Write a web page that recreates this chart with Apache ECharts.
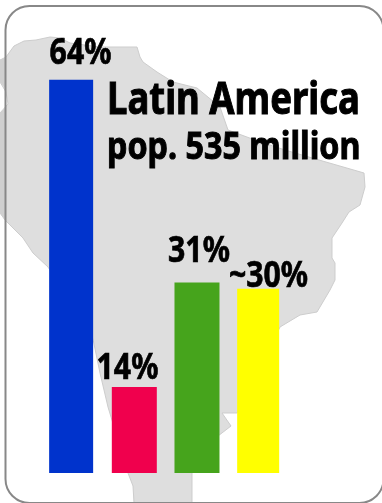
<!DOCTYPE html>
<html>
<head>
<meta charset="utf-8">
<title>Latin America</title>
<style>html,body{margin:0;padding:0;background:#fff}#chart{width:382px;height:503px}</style>
<script src="https://cdn.jsdelivr.net/npm/echarts@6/dist/echarts.min.js"></script>
</head>
<body>
<div id="chart"></div>
<script>
// Share of the population per group, with its printed label
const categories = ['blue', 'red', 'green', 'yellow'];
const shareValues = [64, 14, 31, 30];
const shareLabels = ['64%', '14%', '31%', '~30%'];
const barColors = ['#0033cc', '#f0004d', '#46a41c', '#ffff00'];
const barWidths = [44, 45, 45, 42];
// Label nudges relative to the top centre of each bar
const labelNudges = [[10.4, -26], [-5.3, -18], [3.5, -31], [10.3, -12]];

// Backdrop silhouette of the continent, in page pixels
const landOutline = [
  [0,60],[6,57],[14,46],[24,41],[36,40],[50,37],[60,38],[70,43],[100,47],[137,47],[140,57],[143,62],
  [157,72],[173,82],[197,88],[220,107],[228,130],[255,140],[285,150],[319,160],[364,173],[365,187],
  [360,205],[349,212],[342,223],[332,238],[332,258],[335,263],[335,280],[330,290],[317,312],[300,315],
  [280,327],[237,413],[222,413],[231,426],[218,436],[192,473],[192,503],[134,503],[133,486],[128,473],
  [108,407],[100,373],[93,339],[48,267],[33,253],[23,238],[5,220],[0,213],[0,113],[8,104],[6,92],[0,82]
];
const outsideSliverTop = [[0,60],[5,58],[5,88],[0,82]];
const outsideSliverLow = [[0,113],[5,108],[5,220],[0,213]];

const chart = echarts.init(document.getElementById('chart'), null, { renderer: 'canvas' });

const inkFont = {
  fontFamily: '"Noto Sans", "Open Sans", sans-serif',
  fontWeight: 'bold',
  fill: '#000',
  stroke: '#000',
  lineWidth: 1,
  textAlign: 'center',
  textVerticalAlign: 'middle'
};

function headingText(text, x, y, fontSize, scaleX) {
  return {
    type: 'text', x, y, scaleX, z: 20, silent: true,
    style: { ...inkFont, text, fontSize, textAlign: 'left' }
  };
}

chart.setOption({
  animation: false,
  backgroundColor: '#ffffff',
  grid: { left: 38.8, width: 250.7, top: 43, height: 430 },
  xAxis: { type: 'category', data: categories, show: false },
  yAxis: { type: 'value', min: 0, max: 70, show: false },
  series: [
    ...categories.map((name, i) => ({
      type: 'bar',
      name,
      barWidth: barWidths[i],
      barGap: '-100%',
      itemStyle: { color: barColors[i] },
      data: categories.map((_, j) => (j === i ? shareValues[i] : null))
    })),
    {
      type: 'custom',
      name: 'labels',
      clip: false,
      z: 10,
      data: shareValues.map((v, i) => [i, v]),
      renderItem(params, api) {
        const i = api.value(0);
        const top = api.coord([i, api.value(1)]);
        return {
          type: 'text',
          x: top[0] + labelNudges[i][0],
          y: top[1] + labelNudges[i][1],
          scaleX: 0.84,
          style: { ...inkFont, text: shareLabels[i], fontSize: 36, lineWidth: 0.7 }
        };
      }
    }
  ],
  graphic: [
    { type: 'polygon', z: -10, shape: { points: landOutline },
      style: { fill: '#dedede', stroke: '#cdcdcd', lineWidth: 1 }, silent: true },
    { type: 'polygon', z: -9, shape: { points: outsideSliverTop },
      style: { fill: '#cfcfcf' }, silent: true },
    { type: 'polygon', z: -9, shape: { points: outsideSliverLow },
      style: { fill: '#cfcfcf' }, silent: true },
    { type: 'rect', z: -8, shape: { x: 5.5, y: 6, width: 378, height: 497, r: 24 },
      style: { fill: 'transparent', stroke: '#888888', lineWidth: 2 }, silent: true },
    headingText('Latin America', 107, 101, 44, 0.83),
    headingText('pop. 535 million', 107, 148, 38, 0.85)
  ]
});
</script>
</body>
</html>
